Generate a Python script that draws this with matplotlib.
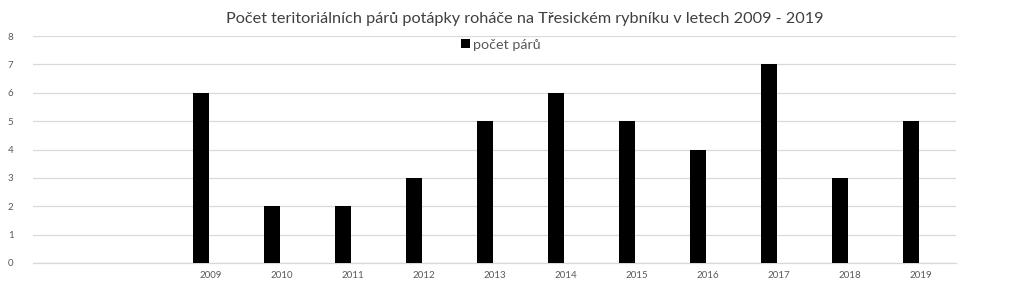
import matplotlib
matplotlib.use("Agg")
import matplotlib.pyplot as plt
import numpy as np

categories = ["", "", "2009", "2010", "2011", "2012", "2013", "2014", "2015", "2016", "2017", "2018", "2019"]
values = [0, 0, 6, 2, 2, 3, 5, 6, 5, 4, 7, 3, 5]
series_name = "počet párů"
title = "Počet teritoriálních párů potápky roháče na Třesickém rybníku v letech 2009 - 2019"

plt.rcParams['font.family'] = ['Lato', 'DejaVu Sans']

fig = plt.figure(figsize=(10.24, 2.95), dpi=100)
ax = fig.add_axes([33/1024, 32/295, (956-33)/1024, (263-36)/295])

x = np.arange(len(categories))
ax.bar(x - 0.14, values, width=0.225, color="black", label=series_name, zorder=3)

ax.set_xlim(-0.5, len(categories) - 0.5)
ax.set_ylim(0, 8)
ax.set_yticks(range(0, 9))
ax.set_xticks(x)
ax.set_xticklabels(categories)
ax.tick_params(axis='both', length=0, labelsize=7, colors="#595959")
ax.tick_params(axis='y', pad=14)
ax.tick_params(axis='x', pad=6)
ax.grid(axis='y', color="#d9d9d9", linewidth=0.9, zorder=0)
for s in ["top", "right", "left"]:
    ax.spines[s].set_visible(False)
ax.spines["bottom"].set_color("#d9d9d9")
ax.spines["bottom"].set_linewidth(0.9)

fig.text(525/1024, 1 - 19/295, title, ha="center", va="center", fontsize=11.7, color="#404040")
leg = fig.legend(loc="center", bbox_to_anchor=(501/1024, 1 - 45/295), frameon=False,
                 fontsize=10.3, handlelength=0.6, handleheight=0.6, handletextpad=0.25,
                 borderpad=0, borderaxespad=0)
for t in leg.get_texts():
    t.set_color("#595959")

fig.savefig("out.png", dpi=100)
